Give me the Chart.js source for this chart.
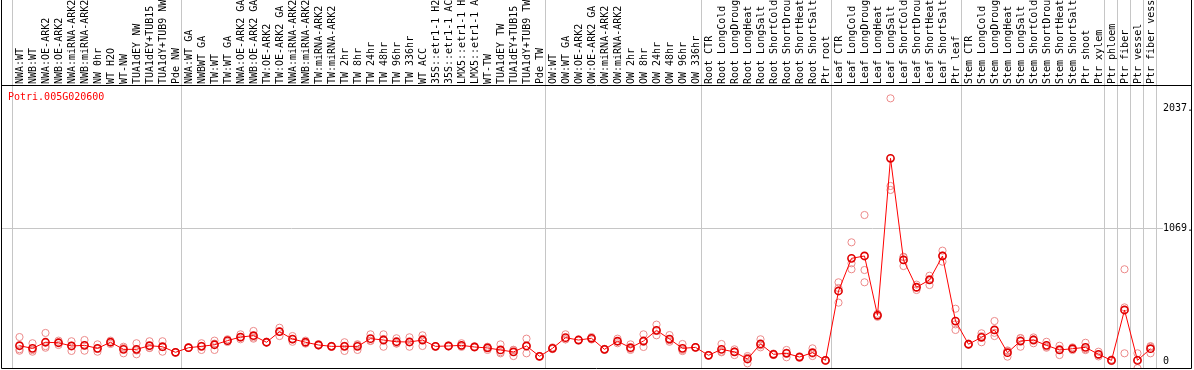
<!DOCTYPE html>
<html>
<head>
<meta charset="utf-8">
<script src="https://cdn.jsdelivr.net/npm/chart.js@4.4.0/dist/chart.umd.min.js"></script>
<style>
html,body{margin:0;padding:0;background:#fff;}
#wrap{width:1194px;height:370px;}
</style>
</head>
<body>
<div id="wrap"><canvas id="c" width="1194" height="370"></canvas></div>
<script>
const geneName = "Potri.005G020600";

const categories = [
"NWA:WT","NWB:WT","NWA:OE-ARK2","NWB:OE-ARK2","NWA:miRNA-ARK2","NWB:miRNA-ARK2","NW 0hr","WT H2O","WT-NW","TUA1dEY NW","TUA1dEY+TUB15","TUA1dY+TUB9 NW","Pde NW",
"NWA:WT GA","NWBWT GA","TW:WT","TW:WT GA","NWA:OE-ARK2 GA","NWB:OE-ARK2 GA","TW:OE-ARK2","TW:OE-ARK2 GA","NWA:miRNA-ARK2","NWB:miRNA-ARK2","TW:miRNA-ARK2","TW:miRNA-ARK2","TW 2hr","TW 8hr","TW 24hr","TW 48hr","TW 96hr","TW 336hr","WT ACC","35S::etr1-1 H2","35S::etr1-1 AC","LMX5::etr1-1 H","LMX5::etr1-1 A","WT-TW","TUA1dEY TW","TUA1dEY+TUB15","TUA1dY+TUB9 TW","Pde TW",
"OW:WT","OW:WT GA","OW:OE-ARK2","OW:OE-ARK2 GA","OW:miRNA-ARK2","OW:miRNA-ARK2","OW 2hr","OW 8hr","OW 24hr","OW 48hr","OW 96hr","OW 336hr",
"Root CTR","Root LongCold","Root LongDroug","Root LongHeat","Root LongSalt","Root ShortCold","Root ShortDrou","Root ShortHeat","Root ShortSalt","Ptr root",
"Leaf CTR","Leaf LongCold","Leaf LongDroug","Leaf LongHeat","Leaf LongSalt","Leaf ShortCold","Leaf ShortDrou","Leaf ShortHeat","Leaf ShortSalt","Ptr leaf",
"Stem CTR","Stem LongCold","Stem LongDroug","Stem LongHeat","Stem LongSalt","Stem ShortCold","Stem ShortDrou","Stem ShortHeat","Stem ShortSalt","Ptr shoot",
"Ptr xylem","Ptr phloem","Ptr fiber","Ptr vessel","Ptr fiber vess"
];

const meanValues = [
123,102,151,147,121,126,102,151,94,94,123,115,70,
107,118,131,164,193,204,151,236,177,151,129,118,118,118,180,169,155,153,169,118,121,126,113,105,89,73,121,38,
102,188,169,183,94,159,107,161,247,177,102,110,
46,94,73,16,137,54,62,32,67,5,
564,827,846,368,1633,814,594,653,846,322,
135,191,250,67,161,169,126,89,99,110,
54,5,411,5,99
];

const replicate1 = [
193,143,226,164,159,169,134,164,115,143,159,159,72,
110,143,164,175,215,242,155,268,201,164,135,122,151,135,215,215,183,191,207,120,125,143,118,115,134,90,180,40,
110,215,172,193,98,180,134,215,293,209,137,112,
48,137,94,40,175,60,89,38,102,8,
634,956,1176,380,2116,840,615,687,889,421,
140,223,322,85,185,190,155,123,110,147,
75,12,739,62,120
];

const replicate2 = [
95,88,120,148,123,126,97,152,105,85,105,111,70,
106,122,140,164,189,190,150,239,175,150,128,118,122,130,164,177,142,153,179,118,121,121,113,111,71,89,121,38,
100,175,169,183,94,159,98,155,242,167,89,110,
46,75,77,27,126,54,67,32,59,5,
588,787,733,368,1410,836,594,660,849,295,
135,200,227,80,183,175,115,96,99,95,
50,3,432,10,115
];

const replicate3 = [
83,75,107,129,81,83,75,137,62,54,105,75,68,
105,89,89,153,175,180,148,201,155,140,124,114,81,89,161,115,140,115,121,116,117,114,108,89,62,40,62,36,
96,174,166,173,90,143,89,113,207,155,80,108,
44,70,48,-19,110,48,30,26,40,2,
470,739,634,356,1378,765,572,612,800,250,
130,151,201,35,115,143,107,48,88,88,
37,0,62,-58,62
];

const yTickValues = [0, 1069.4, 2037.8];
const yMin = -56.4;
const yMax = 2215.4;
const groupStarts = [0, 13, 41, 53, 63, 73, 84, 85, 86, 87, 88];

const MONO = "'DejaVu Sans Mono', 'Liberation Mono', monospace";
Chart.defaults.font.family = MONO;
Chart.defaults.font.size = 10;
Chart.defaults.color = '#000';

const framePlugin = {
  id: 'frame',
  beforeDatasetsDraw(chart) {
    const {ctx, chartArea: a, scales} = chart;
    const x = scales.x, y = scales.y;
    ctx.save();
    ctx.strokeStyle = '#c6c6c6';
    ctx.lineWidth = 1;
    groupStarts.forEach(k => {
      const px = Math.round(x.getPixelForValue(k - 0.5) - 1.5) + 0.5;
      ctx.beginPath();
      ctx.moveTo(px, 0);
      ctx.lineTo(px, a.bottom);
      ctx.stroke();
    });
    const gy = Math.round(y.getPixelForValue(yTickValues[1])) + 0.5;
    ctx.beginPath();
    ctx.moveTo(1, gy);
    ctx.lineTo(a.right + 6, gy);
    ctx.stroke();
    ctx.restore();
  },
  afterDraw(chart) {
    const {ctx, chartArea: a, width} = chart;
    ctx.save();
    ctx.strokeStyle = '#000';
    ctx.lineWidth = 1;
    const R = width - 2.5;
    ctx.beginPath();
    ctx.moveTo(1.5, 0); ctx.lineTo(1.5, a.bottom + 0.5);
    ctx.lineTo(R, a.bottom + 0.5); ctx.lineTo(R, 0);
    ctx.moveTo(1.5, a.top - 0.5); ctx.lineTo(R, a.top - 0.5);
    ctx.stroke();
    ctx.fillStyle = '#ff0000';
    ctx.font = '10px ' + MONO;
    ctx.textBaseline = 'middle';
    ctx.textAlign = 'left';
    ctx.fillText(geneName, a.left - 5, a.top + 11);
    ctx.restore();
  }
};

const repStyle = {
  showLine: false,
  pointRadius: 3.6,
  pointBorderWidth: 1,
  pointBorderColor: '#ec8a8a',
  pointBackgroundColor: 'rgba(0,0,0,0)',
  borderColor: '#ec8a8a'
};

new Chart(document.getElementById('c'), {
  type: 'line',
  data: {
    labels: categories,
    datasets: [
      {
        label: 'mean',
        data: meanValues,
        borderColor: '#ff0000',
        borderWidth: 1,
        tension: 0,
        pointRadius: 3.6,
        pointBorderWidth: 1.6,
        pointBorderColor: '#e00000',
        pointBackgroundColor: 'rgba(0,0,0,0)'
      },
      Object.assign({label: 'rep1', data: replicate1}, repStyle),
      Object.assign({label: 'rep2', data: replicate2}, repStyle),
      Object.assign({label: 'rep3', data: replicate3}, repStyle)
    ]
  },
  options: {
    responsive: false,
    animation: false,
    devicePixelRatio: 1,
    events: [],
    layout: {autoPadding: false, padding: {left: 13, right: 0, top: 0, bottom: 2}},
    plugins: {legend: {display: false}, tooltip: {enabled: false}, title: {display: false}},
    scales: {
      x: {
        type: 'category',
        position: 'top',
        offset: true,
        grid: {display: false, drawTicks: false},
        border: {display: false},
        ticks: {
          autoSkip: false,
          minRotation: 90,
          maxRotation: 90,
          padding: 2,
          labelOffset: 13,
          color: '#000',
          font: {family: MONO, size: 10}
        },
        afterFit(scale) {
          scale.height = 86;
          scale.paddingLeft = 0;
          scale.paddingRight = 0;
        }
      },
      y: {
        position: 'right',
        min: yMin,
        max: yMax,
        grid: {display: false, drawTicks: false},
        border: {display: false},
        afterBuildTicks(scale) {
          scale.ticks = yTickValues.map(v => ({value: v}));
        },
        ticks: {
          padding: 6,
          color: '#000',
          font: {family: MONO, size: 10},
          callback: (v) => String(v).slice(0, 5)
        },
        afterFit(scale) {
          scale.width = 37;
          scale.paddingTop = 0;
          scale.paddingBottom = 0;
        }
      }
    }
  },
  plugins: [framePlugin]
});
</script>
</body>
</html>
